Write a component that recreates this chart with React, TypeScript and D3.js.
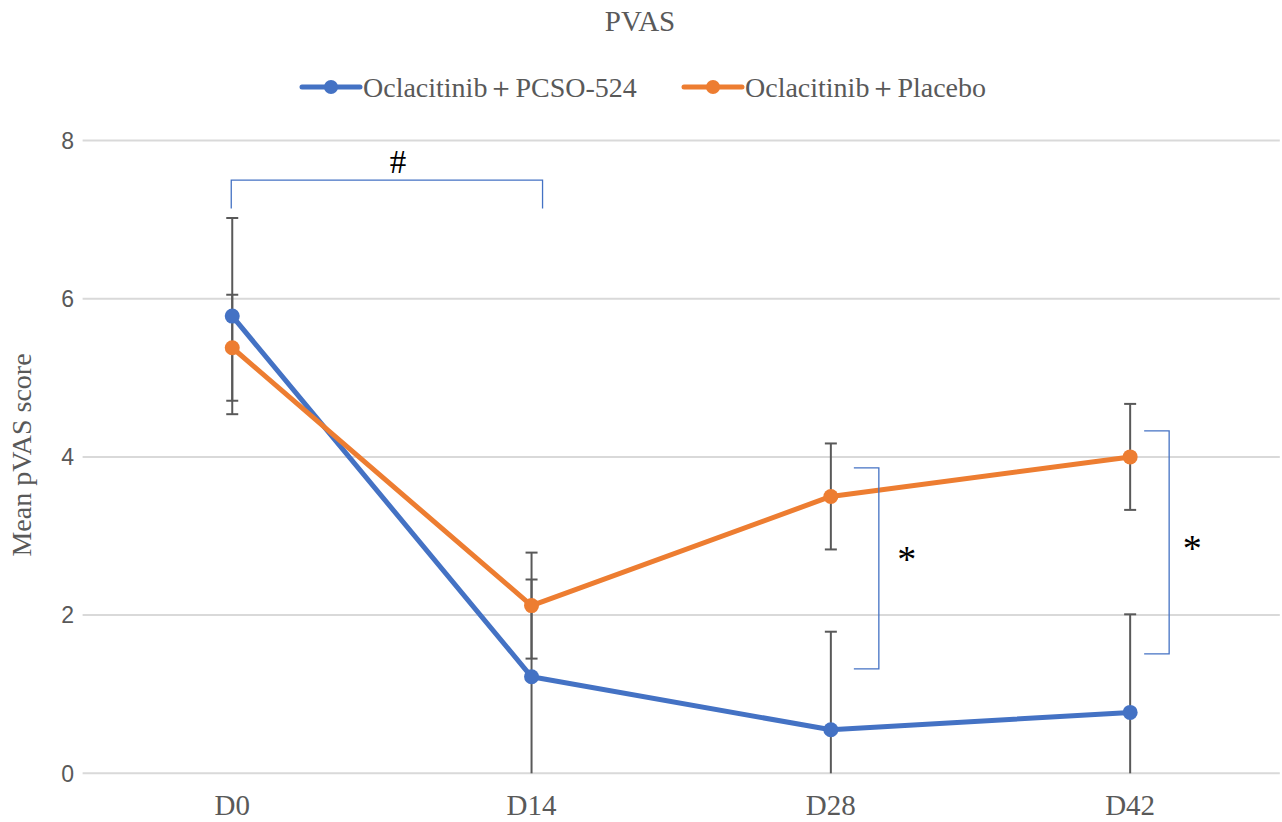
import React, { useEffect } from 'react';
import * as d3 from 'd3';

// categories (study days)
const days = ['D0', 'D14', 'D28', 'D42'];

// series: mean pVAS score and SD
const seriesNames = ['Oclacitinib＋PCSO-524', 'Oclacitinib＋Placebo'];
const pcsoMean = [5.78, 1.22, 0.55, 0.77];
const pcsoSd = [1.24, 1.23, 1.24, 1.24];
const placeboMean = [5.38, 2.12, 3.5, 4.0];
const placeboSd = [0.67, 0.67, 0.67, 0.67];

const yTicks = [0, 2, 4, 6, 8];

// significance marks (value ranges in score units)
const hashMark = { from: 'D0', to: 'D14', top: 7.5, bottom: 7.14, label: '#' };
const starMarks = [
  { day: 'D28', top: 3.86, bottom: 1.32, label: '*' },
  { day: 'D42', top: 4.33, bottom: 1.51, label: '*' },
];

const W = 1282, H = 822;
const BLUE = '#4472C4', ORANGE = '#ED7D31', GREY = '#595959', GRID = '#D9D9D9';
const SERIF = '"Liberation Serif", "Times New Roman", serif';
const SANS = '"Liberation Sans", Arial, sans-serif';

export default function App() {
  useEffect(() => {
    document.body.style.margin = '0';
  }, []);

  const x = d3.scaleBand().domain(days).range([82.6, 1279.8]);
  const cx = (d: string) => (x(d) as number) + x.bandwidth() / 2;
  const y = d3.scaleLinear().domain([0, 8]).range([773.3, 140.5]);

  const line = d3.line<number>().x((_, i) => cx(days[i])).y(v => y(v));

  const series = [
    { name: seriesNames[0], mean: pcsoMean, sd: pcsoSd, color: BLUE },
    { name: seriesNames[1], mean: placeboMean, sd: placeboSd, color: ORANGE },
  ];

  const errBars = series.flatMap(s =>
    s.mean.map((m, i) => {
      const hi = m + s.sd[i];
      const loRaw = m - s.sd[i];
      const lo = Math.max(0, loRaw);
      return { x: cx(days[i]), hi, lo, clipped: loRaw < 0 };
    })
  );

  const legendItems = [
    { name: seriesNames[0], color: BLUE, x0: 302 },
    { name: seriesNames[1], color: ORANGE, x0: 684 },
  ];

  return (
    <svg width={W} height={H} style={{ display: 'block', background: '#fff' }}>
      <text x={640} y={31} textAnchor="middle" fontFamily={SERIF} fontSize={29} fill={GREY}>PVAS</text>

      {legendItems.map(l => (
        <g key={l.name}>
          <line x1={l.x0} x2={l.x0 + 58} y1={87} y2={87} stroke={l.color} strokeWidth={5} strokeLinecap="round" />
          <circle cx={l.x0 + 29} cy={87} r={7} fill={l.color} />
          <text x={l.x0 + 61} y={97} fontFamily={SERIF} fontSize={28} fill={GREY}>{l.name}</text>
        </g>
      ))}

      {/* gridlines */}
      {yTicks.map(t => (
        <g key={t}>
          <line x1={82.6} x2={1279.8} y1={y(t)} y2={y(t)} stroke={GRID} strokeWidth={2} />
          <text x={74} y={y(t)} dy="0.36em" textAnchor="end" fontFamily={SANS} fontSize={23} fill={GREY}>{t}</text>
        </g>
      ))}

      {days.map(d => (
        <text key={d} x={cx(d)} y={815} textAnchor="middle" fontFamily={SERIF} fontSize={29} fill={GREY}>{d}</text>
      ))}

      <text transform={`translate(31,455) rotate(-90)`} textAnchor="middle" fontFamily={SERIF} fontSize={28} fill={GREY}>Mean pVAS score</text>

      {/* error bars */}
      {errBars.map((e, i) => (
        <g key={i} stroke={GREY} strokeWidth={2}>
          <line x1={e.x} x2={e.x} y1={y(e.hi)} y2={y(e.lo)} />
          <line x1={e.x - 6} x2={e.x + 6} y1={y(e.hi)} y2={y(e.hi)} />
          {!e.clipped && <line x1={e.x - 6} x2={e.x + 6} y1={y(e.lo)} y2={y(e.lo)} />}
        </g>
      ))}

      {series.map(s => (
        <path key={s.name} d={line(s.mean) || ''} fill="none" stroke={s.color} strokeWidth={5} strokeLinejoin="round" />
      ))}
      {series.map(s => (
        <g key={s.name + 'pts'}>
          {s.mean.map((m, i) => (
            <circle key={i} cx={cx(days[i])} cy={y(m)} r={7.5} fill={s.color} />
          ))}
        </g>
      ))}

      {/* significance brackets */}
      <path
        d={`M${cx(hashMark.from) - 1},${y(hashMark.bottom)}V${y(hashMark.top)}H${cx(hashMark.to) + 11}V${y(hashMark.bottom)}`}
        fill="none" stroke={BLUE} strokeWidth={1.3}
      />
      <text x={(cx(hashMark.from) + cx(hashMark.to)) / 2 + 16} y={173} textAnchor="middle" fontFamily={SERIF} fontSize={33} fill="#000">{hashMark.label}</text>

      {starMarks.map((s, i) => {
        const spine = cx(s.day) + (i === 0 ? 48 : 39);
        const tip = cx(s.day) + (i === 0 ? 23 : 14);
        return (
          <g key={s.day}>
            <path d={`M${tip},${y(s.top)}H${spine}V${y(s.bottom)}H${tip}`} fill="none" stroke={BLUE} strokeWidth={1.3} />
            <text x={spine + (i === 0 ? 28 : 23)} y={(y(s.top) + y(s.bottom)) / 2 + (i === 0 ? 4 : 19)} textAnchor="middle" fontFamily={SERIF} fontSize={38} fill="#000">{s.label}</text>
          </g>
        );
      })}
    </svg>
  );
}
